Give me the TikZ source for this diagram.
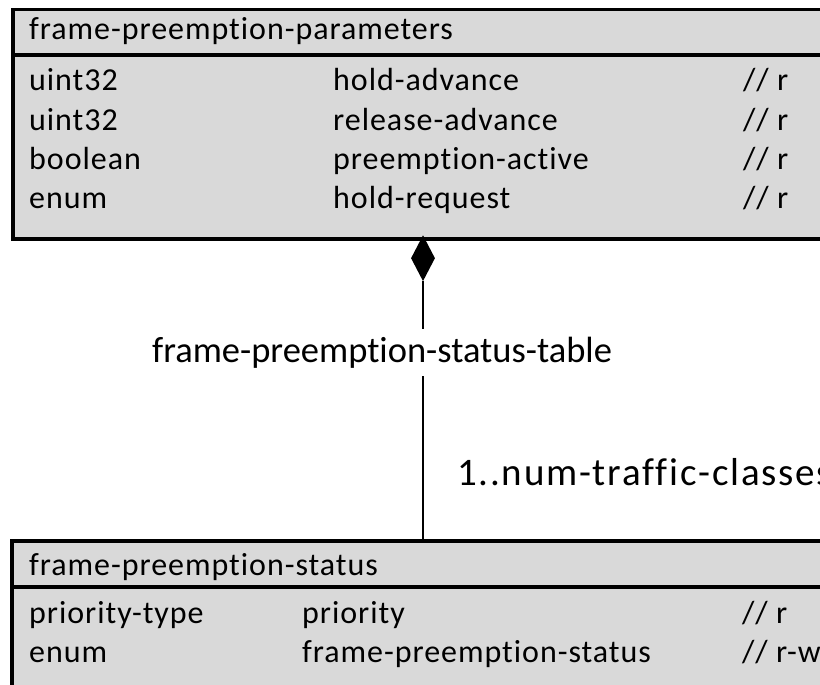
\documentclass[tikz,border=0pt]{standalone}
\usepackage{fontspec}
\setmainfont[Ligatures=NoCommon]{Carlito}
\newfontfamily\boxfont[LetterSpace=3,Ligatures=NoCommon]{Carlito}
\newfontfamily\labfont[Ligatures=NoCommon]{Carlito}
\newfontfamily\mulfont[LetterSpace=4.5,Ligatures=NoCommon]{Carlito}
\usetikzlibrary{shapes.geometric}
\definecolor{boxgray}{HTML}{D9D9D9}
\begin{document}
\begin{tikzpicture}[x=1pt,y=-1pt,
  umlbox/.style={draw=black, fill=boxgray, line width=3.5pt, inner sep=0pt, anchor=north west, minimum width=900pt},
  sepline/.style={line width=3.5pt},
  cell/.style={anchor=base west, inner sep=0pt, font=\boxfont\fontsize{32}{32}\selectfont},
  assoc/.style={line width=1.1pt},
  biglabel/.style={anchor=base west, font=\labfont\fontsize{36.5}{36.5}\selectfont},
  multlabel/.style={anchor=base west, inner sep=0pt, font=\mulfont\fontsize{39}{39}\selectfont},
  comp/.style={diamond, fill=black, draw=none, inner sep=0pt, minimum width=24pt, minimum height=46pt, anchor=north}]
\useasboundingbox (0,0) rectangle (820,685);
\clip (0,0) rectangle (820,685);
% top class
\node[umlbox, minimum height=229pt] (params) at (11,8) {};
\draw[sepline] (params.north west) ++(0,47) -- ++(900,0);
\node[cell] (ph) at (29,40) {frame-preemption-parameters};
\node[cell] (p1a) at (29,91) {uint32};
\node[cell] (p1b) at (333,91) {hold-advance};
\node[cell] (p1c) at (743,91) {// r};
\node[cell] (p2a) at (29,130) {uint32};
\node[cell] (p2b) at (333,130) {release-advance};
\node[cell] (p2c) at (743,130) {// r};
\node[cell] (p3a) at (29,169) {boolean};
\node[cell] (p3b) at (333,169) {preemption-active};
\node[cell] (p3c) at (743,169) {// r};
\node[cell] (p4a) at (29,208) {enum};
\node[cell] (p4b) at (333,208) {hold-request};
\node[cell] (p4c) at (743,208) {// r};
% bottom class
\node[umlbox, minimum height=300pt] (status) at (10,539) {};
\draw[sepline] (status.north west) ++(0,48) -- ++(900,0);
\node[cell] (sh) at (29,575) {frame-preemption-status};
\node[cell] (s1a) at (29,623) {priority-type};
\node[cell] (s1b) at (302,623) {priority};
\node[cell] (s1c) at (742,623) {// r};
\node[cell] (s2a) at (29,662) {enum};
\node[cell] (s2b) at (302,662) {frame-preemption-status};
\node[cell] (s2c) at (742,662) {// r-w};
% association
\node[comp] (dia) at (423,235) {};
\draw[assoc] (dia.south) -- (dia.south |- status.north);
\node[biglabel, fill=white, inner xsep=2pt, inner ysep=8pt] (role) at (150,362) {frame-preemption-status-table};
\node[multlabel] (mult) at (457,485) {1..num-traffic-classes};
\end{tikzpicture}
\end{document}
